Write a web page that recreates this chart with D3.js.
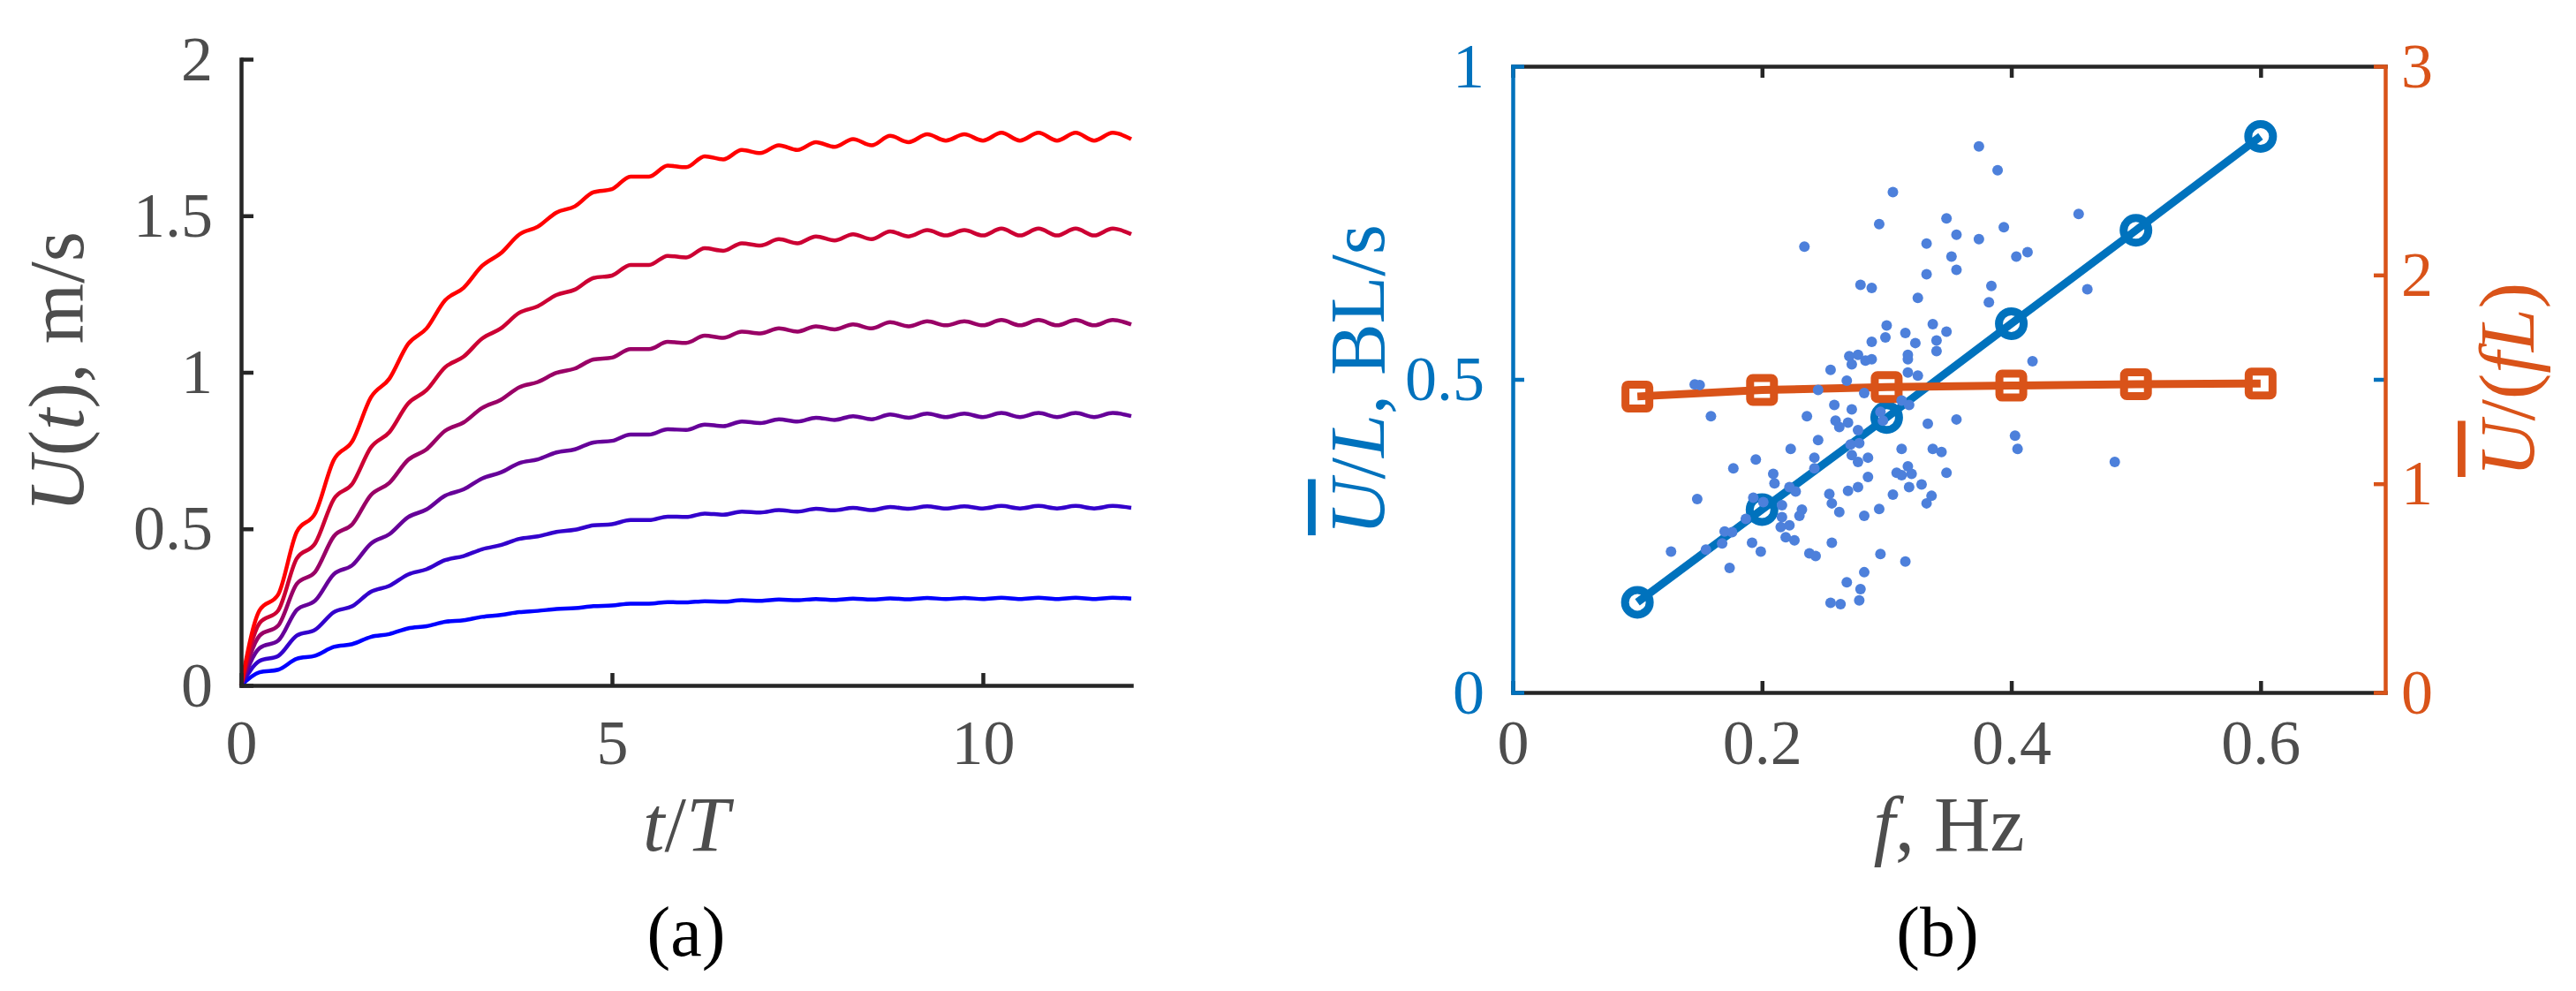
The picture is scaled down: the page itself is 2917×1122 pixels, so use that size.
<!DOCTYPE html>
<html>
<head>
<meta charset="utf-8">
<script src="https://cdn.jsdelivr.net/npm/d3@7"></script>
<style>
  body { margin: 0; background: #fff; }
  text { font-family: "Liberation Serif", "Times New Roman", serif; }
</style>
</head>
<body>
<svg id="chart" width="2917" height="1122"></svg>
<script>
// (a) velocity time series, sampled every quarter period
const tOverT = [0, 0.25, 0.5, 0.75, 1, 1.25, 1.5, 1.75, 2, 2.25, 2.5, 2.75, 3, 3.25, 3.5, 3.75,
  4, 4.25, 4.5, 4.75, 5, 5.25, 5.5, 5.75, 6, 6.25, 6.5, 6.75, 7, 7.25, 7.5, 7.75,
  8, 8.25, 8.5, 8.75, 9, 9.25, 9.5, 9.75, 10, 10.25, 10.5, 10.75, 11, 11.25, 11.5, 11.75, 12];

const uBlue = [0, .042, .050, .085, .095, .123, .132, .155, .164, .182, .189, .203, .208, .219, .225, .234,
  .238, .244, .247, .253, .255, .261, .261, .266, .265, .269, .267, .272, .270, .274, .272, .276,
  .273, .277, .274, .278, .275, .279, .276, .279, .276, .280, .276, .280, .276, .280, .276, .280, .277];
const uIndigo = [0, .078, .094, .159, .178, .234, .253, .299, .318, .354, .371, .400, .413, .435, .448, .468,
  .476, .490, .497, .511, .515, .528, .528, .539, .538, .549, .545, .555, .552, .560, .555, .564,
  .559, .567, .560, .570, .564, .572, .565, .572, .565, .573, .565, .573, .565, .573, .565, .573, .567];
const uPurple = [0, .119, .143, .241, .271, .355, .384, .453, .483, .537, .562, .606, .626, .661, .680, .710,
  .722, .744, .754, .776, .781, .801, .801, .818, .816, .833, .828, .843, .838, .850, .843, .855,
  .848, .860, .850, .865, .855, .868, .857, .868, .857, .870, .857, .870, .857, .870, .857, .870, .860];
const uMagenta = [0, .159, .191, .324, .363, .476, .515, .608, .647, .720, .754, .813, .840, .886, .912, .952,
  .969, .998, 1.012, 1.041, 1.047, 1.074, 1.074, 1.097, 1.094, 1.117, 1.110, 1.130, 1.124, 1.140, 1.130, 1.147,
  1.137, 1.153, 1.140, 1.160, 1.147, 1.163, 1.150, 1.163, 1.150, 1.167, 1.150, 1.167, 1.150, 1.167, 1.150, 1.167, 1.153];
const uCrimson = [0, .199, .239, .405, .454, .595, .644, .760, .809, .900, .943, 1.016, 1.050, 1.108, 1.140, 1.190,
  1.211, 1.247, 1.264, 1.301, 1.309, 1.343, 1.343, 1.372, 1.367, 1.396, 1.388, 1.412, 1.405, 1.425, 1.412, 1.434,
  1.421, 1.441, 1.425, 1.450, 1.434, 1.454, 1.437, 1.454, 1.437, 1.459, 1.437, 1.459, 1.437, 1.459, 1.437, 1.459, 1.441];
const uRed = [0, .24, .29, .49, .55, .72, .78, .92, .98, 1.09, 1.14, 1.23, 1.27, 1.34, 1.38, 1.44,
  1.465, 1.51, 1.53, 1.575, 1.585, 1.625, 1.625, 1.66, 1.655, 1.69, 1.68, 1.71, 1.70, 1.725, 1.71, 1.735,
  1.72, 1.745, 1.725, 1.755, 1.735, 1.76, 1.74, 1.76, 1.74, 1.765, 1.74, 1.765, 1.74, 1.765, 1.74, 1.765, 1.745];

const uSeries = [uBlue, uIndigo, uPurple, uMagenta, uCrimson, uRed];
const uColors = ["#0000ff", "#3300cc", "#660099", "#990066", "#cc0033", "#ff0000"];

// (b) mean speed versus frequency
const freqs = [0.1, 0.2, 0.3, 0.4, 0.5, 0.6];
const speedBL = [0.144, 0.292, 0.439, 0.589, 0.738, 0.888];
const strideLen = [1.418, 1.449, 1.463, 1.470, 1.477, 1.480];

// scattered individual measurements (f, U/L)
const scatterF = [0.294, 0.234, 0.279, 0.288, 0.300, 0.299, 0.288, 0.270, 0.277, 0.283, 0.288, 0.272, 0.255,
  0.305, 0.374, 0.389, 0.454, 0.348, 0.356, 0.394, 0.374, 0.332, 0.352, 0.404, 0.413, 0.356, 0.332, 0.384, 0.382,
  0.325, 0.461, 0.337, 0.348, 0.315, 0.323, 0.340, 0.340, 0.317, 0.317, 0.417,
  0.146, 0.150, 0.159, 0.268, 0.282, 0.245, 0.258, 0.272, 0.236, 0.259, 0.269, 0.262, 0.277, 0.295, 0.297, 0.245,
  0.223, 0.271, 0.278, 0.272, 0.277, 0.285, 0.242, 0.242, 0.195, 0.177, 0.209, 0.210, 0.222, 0.227, 0.285, 0.269,
  0.277, 0.254, 0.256, 0.262, 0.294, 0.282, 0.232, 0.230, 0.216, 0.216, 0.193, 0.201, 0.187, 0.215, 0.222, 0.219,
  0.226, 0.170, 0.176, 0.168, 0.155, 0.192, 0.199, 0.127, 0.174, 0.256, 0.238, 0.243, 0.295, 0.282, 0.268, 0.279,
  0.278, 0.255, 0.263, 0.148,
  0.317, 0.325, 0.312, 0.318, 0.333, 0.356, 0.403, 0.405, 0.483, 0.312, 0.337, 0.344, 0.317, 0.308, 0.312, 0.320,
  0.348, 0.318, 0.328, 0.305, 0.336, 0.332, 0.315];
const scatterV = [0.748, 0.712, 0.651, 0.646, 0.586, 0.567, 0.560, 0.537, 0.539, 0.530, 0.532, 0.524, 0.515,
  0.799, 0.872, 0.834, 0.764, 0.757, 0.731, 0.743, 0.724, 0.717, 0.696, 0.696, 0.703, 0.675, 0.668, 0.649, 0.623,
  0.630, 0.644, 0.588, 0.576, 0.574, 0.558, 0.562, 0.545, 0.539, 0.532, 0.529,
  0.492, 0.491, 0.441, 0.498, 0.478, 0.483, 0.459, 0.452, 0.441, 0.434, 0.431, 0.424, 0.419, 0.448, 0.434, 0.403,
  0.389, 0.396, 0.398, 0.379, 0.368, 0.375, 0.375, 0.358, 0.372, 0.358, 0.349, 0.334, 0.328, 0.321, 0.344, 0.322,
  0.328, 0.317, 0.302, 0.288, 0.293, 0.282, 0.292, 0.282, 0.299, 0.280, 0.311, 0.304, 0.277, 0.264, 0.267, 0.248,
  0.243, 0.257, 0.256, 0.238, 0.228, 0.239, 0.225, 0.225, 0.199, 0.239, 0.222, 0.218, 0.221, 0.192, 0.176, 0.165,
  0.147, 0.143, 0.141, 0.309,
  0.511, 0.506, 0.466, 0.459, 0.429, 0.436, 0.410, 0.389, 0.368, 0.389, 0.389, 0.384, 0.361, 0.351, 0.347, 0.349,
  0.351, 0.328, 0.332, 0.316, 0.314, 0.302, 0.209];

const xTicksA = [0, 5, 10];
const yTicksA = [0, 0.5, 1, 1.5, 2];
const xTicksB = [0, 0.2, 0.4, 0.6];
const yTicksBL = [0, 0.5, 1];
const yTicksBR = [0, 1, 2, 3];

const axisColor = "#262626";
const textColor = "#4d4d4d";
const blue = "#0072bd";
const orange = "#d95319";
const dotColor = "#4d80db";
const tickFont = 72;
const labelFont = 88;

const svg = d3.select("#chart");

function styleAxis(g, color, width) {
  g.attr("font-size", tickFont)
    .attr("font-family", "Liberation Serif, serif");
  g.select(".domain").attr("stroke", color).attr("stroke-width", width).attr("stroke-linecap", "square");
  g.selectAll(".tick line").attr("stroke", color).attr("stroke-width", width);
  g.selectAll(".tick text").attr("fill", color === axisColor ? textColor : color);
}

// ---------- panel (a) ----------
const xA = d3.scaleLinear().domain([0, 12]).range([273, 1281]);
const yA = d3.scaleLinear().domain([0, 2]).range([776, 67]);

const line = d3.line()
  .x((d, i) => xA(tOverT[i]))
  .y(d => yA(d))
  .curve(d3.curveMonotoneX);

svg.append("g")
  .selectAll("path")
  .data(uSeries)
  .enter()
  .append("path")
  .attr("d", line)
  .attr("fill", "none")
  .attr("stroke", (d, i) => uColors[i])
  .attr("stroke-width", 4.5);

svg.append("g")
  .attr("transform", `translate(0,${yA(0)})`)
  .call(d3.axisBottom(xA).tickValues(xTicksA).tickSize(-14).tickSizeOuter(0).tickPadding(38))
  .call(g => styleAxis(g, axisColor, 4.5));

svg.append("g")
  .attr("transform", `translate(${xA(0)},0)`)
  .call(d3.axisLeft(yA).tickValues(yTicksA).tickFormat(d3.format("")).tickSize(-14).tickSizeOuter(0).tickPadding(32))
  .call(g => styleAxis(g, axisColor, 4.5));

const yLabA = svg.append("text")
  .attr("transform", "translate(94,421) rotate(-90)")
  .attr("text-anchor", "middle")
  .attr("font-size", labelFont)
  .attr("fill", textColor);
yLabA.append("tspan").attr("font-style", "italic").text("U");
yLabA.append("tspan").text("(");
yLabA.append("tspan").attr("font-style", "italic").text("t");
yLabA.append("tspan").text("), m/s");

const xLabA = svg.append("text")
  .attr("x", 777).attr("y", 963)
  .attr("text-anchor", "middle")
  .attr("font-size", labelFont)
  .attr("fill", textColor);
xLabA.append("tspan").attr("font-style", "italic").text("t");
xLabA.append("tspan").text("/");
xLabA.append("tspan").attr("font-style", "italic").text("T");

svg.append("text")
  .attr("x", 777).attr("y", 1082)
  .attr("text-anchor", "middle")
  .attr("font-size", 80)
  .attr("fill", "#000")
  .text("(a)");

// ---------- panel (b) ----------
const xB = d3.scaleLinear().domain([0, 0.7]).range([1713, 2701]);
const yBL = d3.scaleLinear().domain([0, 1]).range([784, 75]);
const yBR = d3.scaleLinear().domain([0, 3]).range([784, 75]);

// top box line with inward ticks
svg.append("g")
  .attr("transform", `translate(0,${yBL(1)})`)
  .call(d3.axisTop(xB).tickValues(xTicksB).tickFormat("").tickSize(-13).tickSizeOuter(0))
  .call(g => styleAxis(g, axisColor, 4.5));

svg.append("g")
  .attr("transform", `translate(0,${yBL(0)})`)
  .call(d3.axisBottom(xB).tickValues(xTicksB).tickFormat(d3.format("")).tickSize(-13).tickSizeOuter(0).tickPadding(30))
  .call(g => styleAxis(g, axisColor, 4.5));

svg.append("g")
  .attr("transform", `translate(${xB(0)},0)`)
  .call(d3.axisLeft(yBL).tickValues(yTicksBL).tickFormat(d3.format("")).tickSize(-13).tickSizeOuter(0).tickPadding(32))
  .call(g => styleAxis(g, blue, 4.5));

// left-axis tick mirrored on the right side
svg.append("g")
  .attr("transform", `translate(${xB(0.7)},0)`)
  .call(d3.axisRight(yBL).tickValues([0.5]).tickFormat("").tickSize(-13).tickSizeOuter(0))
  .call(g => { styleAxis(g, blue, 4.5); g.select(".domain").remove(); });

svg.append("g")
  .attr("transform", `translate(${xB(0.7)},0)`)
  .call(d3.axisRight(yBR).tickValues(yTicksBR).tickFormat(d3.format("")).tickSize(-13).tickSizeOuter(0).tickPadding(18))
  .call(g => styleAxis(g, orange, 4.5));

const blueLine = d3.line().x((d, i) => xB(freqs[i])).y(d => yBL(d));
const orangeLine = d3.line().x((d, i) => xB(freqs[i])).y(d => yBR(d));

svg.append("path")
  .datum(speedBL)
  .attr("d", blueLine)
  .attr("fill", "none")
  .attr("stroke", blue)
  .attr("stroke-width", 9);

svg.append("g")
  .selectAll("circle")
  .data(speedBL)
  .enter()
  .append("circle")
  .attr("cx", (d, i) => xB(freqs[i]))
  .attr("cy", d => yBL(d))
  .attr("r", 14)
  .attr("fill", "none")
  .attr("stroke", blue)
  .attr("stroke-width", 9);

svg.append("path")
  .datum(strideLen)
  .attr("d", orangeLine)
  .attr("fill", "none")
  .attr("stroke", orange)
  .attr("stroke-width", 9);

svg.append("g")
  .selectAll("rect")
  .data(strideLen)
  .enter()
  .append("rect")
  .attr("x", (d, i) => xB(freqs[i]) - 13.5)
  .attr("y", d => yBR(d) - 13.5)
  .attr("width", 27)
  .attr("height", 27)
  .attr("rx", 3)
  .attr("fill", "none")
  .attr("stroke", orange)
  .attr("stroke-width", 9)
  .attr("stroke-linejoin", "round");

svg.append("g")
  .selectAll("circle")
  .data(scatterF)
  .enter()
  .append("circle")
  .attr("cx", d => xB(d))
  .attr("cy", (d, i) => yBL(scatterV[i]))
  .attr("r", 6)
  .attr("fill", dotColor);

const yLabBL = svg.append("text")
  .attr("transform", "translate(1567,430) rotate(-90)")
  .attr("text-anchor", "middle")
  .attr("font-size", labelFont)
  .attr("fill", blue);
yLabBL.append("tspan").attr("font-style", "italic").attr("text-decoration", "overline").text("U");
yLabBL.append("tspan").text("/");
yLabBL.append("tspan").attr("font-style", "italic").text("L");
yLabBL.append("tspan").text(", BL/s");

const yLabBR = svg.append("text")
  .attr("transform", "translate(2869,430) rotate(-90)")
  .attr("text-anchor", "middle")
  .attr("font-size", labelFont)
  .attr("fill", orange);
yLabBR.append("tspan").attr("font-style", "italic").attr("text-decoration", "overline").text("U");
yLabBR.append("tspan").text("/(");
yLabBR.append("tspan").attr("font-style", "italic").text("fL");
yLabBR.append("tspan").text(")");

const xLabB = svg.append("text")
  .attr("x", 2207).attr("y", 963)
  .attr("text-anchor", "middle")
  .attr("font-size", labelFont)
  .attr("fill", textColor);
xLabB.append("tspan").attr("font-style", "italic").text("f");
xLabB.append("tspan").text(", Hz");

svg.append("text")
  .attr("x", 2194).attr("y", 1082)
  .attr("text-anchor", "middle")
  .attr("font-size", 80)
  .attr("fill", "#000")
  .text("(b)");
</script>
</body>
</html>
